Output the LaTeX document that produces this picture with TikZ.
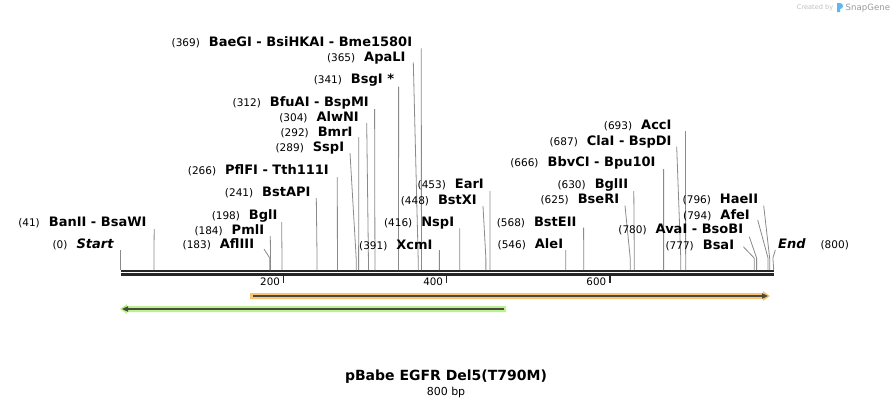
\documentclass[tikz,border=0pt]{standalone}
\usepackage{fontspec}
\setmainfont{DejaVu Sans}
\definecolor{railcol}{HTML}{262626}
\definecolor{cutcol}{HTML}{8A8A8A}
\definecolor{orangefeat}{HTML}{F8C572}
\definecolor{greenfeat}{HTML}{BBF28E}
\definecolor{featcol}{HTML}{4A4A42}
\definecolor{logocol}{HTML}{5BB8F0}
\newcommand{\namefont}{\fontsize{13}{15}\selectfont\bfseries}
\begin{document}
\begin{tikzpicture}[x=1pt,y=-1pt,
    cut/.style={draw=cutcol,line width=0.8pt},
    rail/.style={draw=railcol,line width=2.4pt},
    enzyme/.style={anchor=base east,inner sep=0pt,font=\fontsize{10.5}{12}\selectfont},
    ticklabel/.style={anchor=base east,inner sep=0pt,font=\fontsize{10.3}{12}\selectfont}]
    \useasboundingbox (0,0) rectangle (894,408);
    \coordinate (c0) at (120.7,270);
    \coordinate (c800) at (773.7,270);
    \draw[rail] (120.7,270.7) -- (773.7,270.7);
    \draw[rail] (120.7,274.5) -- (773.7,274.5);
    \foreach \bp/\xe/\ly/\tx/\ty/\name in {
        41/146.7/222/154.2/229/BanII - BsaWI,
        183/254.3/244/264/249/AflIII,
        184/264.3/230/270.3/236/PmlI,
        198/277.7/215/281.7/222/BglI,
        241/310.7/192/316.3/198/BstAPI,
        266/329/170/337.3/177/PflFI - Tth111I,
        289/344.3/147/350/153/SspI,
        292/352.7/132/358.8/137/BmrI,
        304/359/117/366.7/123/AlwNI,
        312/369/102/374.6/109/BfuAI - BspMI,
        341/394.3/79/398.6/86.7/BsgI *,
        365/405.7/57/413.3/62.3/ApaLI,
        369/412.3/42/421.3/48.3/BaeGI - BsiHKAI - Bme1580I,
        391/432.7/245/439.4/250/XcmI,
        416/454.3/222/459.7/228.3/NspI,
        448/477/200/483/206/BstXI,
        453/484/184/490/191/EarI,
        546/563.3/244/565.7/250/AleI,
        568/576.7/222/583.6/227.7/BstEII,
        625/619.3/199/625/205.7/BseRI,
        630/628.3/184/633.8/191/BglII,
        666/655.7/162/663.6/169/BbvCI - Bpu10I,
        687/671.7/141/676.7/146.7/ClaI - BspDI,
        693/671.7/125/685.5/131/AccI,
        777/734.3/245/743.3/246.7/BsaI,
        780/743.3/229/749.3/236.7/AvaI - BsoBI,
        794/750/215/757.7/220/AfeI,
        796/758.3/199/763.7/205.7/HaeII}{
        \pgfmathsetmacro\sx{120.5+0.8155*\bp}
        \coordinate (c\bp) at (\sx,270);
        \coordinate (t\bp) at (\tx,\ty);
        \node[enzyme] (l\bp) at (\xe,\ly+4.5) {(\bp)\hspace{9pt}{\namefont\name}};
        \draw[cut] (t\bp) -- (\sx,258) -- (c\bp);
    }
    \coordinate (t0) at (120.7,250);
    \node[enzyme] (l0) at (113.7,248.5) {(0)\hspace{9pt}{\namefont\itshape Start}};
    \draw[cut] (t0) -- (c0);
    \coordinate (t800) at (775.3,250);
    \node[enzyme,anchor=base west] (l800) at (778,248.5) {{\namefont\itshape End}\hspace{15pt}(800)};
    \draw[cut] (t800) -- (772.9,258) -- (c800);
    \foreach \t in {200,400,600}{
        \pgfmathsetmacro\kx{120.5+0.8155*\t}
        \draw[draw=railcol,line width=1.5pt] (\kx,276) -- (\kx,283);
        \node[ticklabel] (k\t) at (\kx-3.5,285.5) {\t};
    }
    \fill[orangefeat] (250,293) -- (763,293) -- (763,291) -- (770,296) -- (763,301) -- (763,299) -- (250,299) -- cycle;
    \draw[featcol,line width=1.6pt] (253,296) -- (764,296);
    \fill[featcol] (762,293.2) -- (768,296) -- (762,298.8) -- cycle;
    \fill[greenfeat] (506,306) -- (127,306) -- (127,304) -- (120,309) -- (127,314) -- (127,312) -- (506,312) -- cycle;
    \draw[featcol,line width=1.6pt] (504,309) -- (126,309);
    \fill[featcol] (128,306.2) -- (122,309) -- (128,311.8) -- cycle;
    \node[inner sep=0pt,font=\fontsize{14}{16}\selectfont\bfseries] (title) at (446,377) {pBabe EGFR Del5(T790M)};
    \node[inner sep=0pt,font=\fontsize{11}{13}\selectfont] (size) at (446,392) {800 bp};
    \node[anchor=base west,inner sep=0pt,text=black!25,font=\fontsize{6.6}{8}\selectfont] (made) at (796.7,9.5) {Created by};
    \fill[logocol] (837,3) -- (840,3) .. controls (844,3) and (844,9) .. (840,9) -- (840,12) -- (837,12) -- cycle;
    \node[anchor=base west,inner sep=0pt,text=black!40,font=\fontsize{8.6}{10}\selectfont] (brand) at (845.5,10.5) {SnapGene};
\end{tikzpicture}
\end{document}
